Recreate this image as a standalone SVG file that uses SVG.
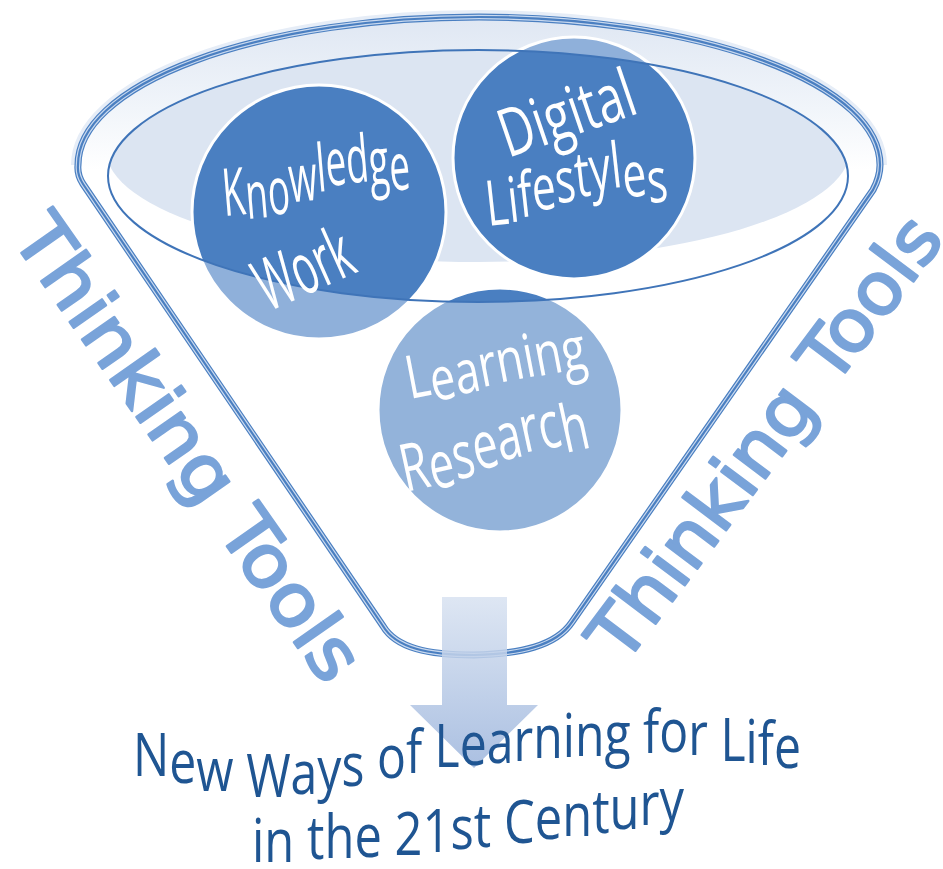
<svg xmlns="http://www.w3.org/2000/svg" width="943" height="869" viewBox="0 0 943 869">
<defs>
  <style>
    .rimA{fill:none;stroke:#4a7fc1;stroke-width:7;stroke-linejoin:round}
    .rimB{fill:none;stroke:#c9d9ef;stroke-width:4.6;stroke-linejoin:round}
    .rimC{fill:none;stroke:#4a7fc1;stroke-width:2.2;stroke-linejoin:round}
    .ring{fill:none;stroke:#ffffff;stroke-width:3}
    .dark{fill:#4a7fc1}
    .ctext{font-family:"Open Sans","Noto Sans","Liberation Sans",sans-serif;fill:#ffffff}
    .tt{font-family:"DejaVu Sans","Liberation Sans",sans-serif;font-size:72px;fill:#79a3d9;stroke:#79a3d9;stroke-width:2.4;stroke-linejoin:round}
    .cap{font-family:"Open Sans","Noto Sans","Liberation Sans",sans-serif;font-size:61px;fill:#1f5592}
  </style>
  <linearGradient id="rimFill" x1="0" y1="17" x2="0" y2="170" gradientUnits="userSpaceOnUse">
    <stop offset="0" stop-color="#dfe7f3"/>
    <stop offset="0.6" stop-color="#f1f5fa"/>
    <stop offset="1" stop-color="#ffffff"/>
  </linearGradient>
  <linearGradient id="arrowFill" x1="0" y1="597" x2="0" y2="770" gradientUnits="userSpaceOnUse">
    <stop offset="0" stop-color="#d8e2f1"/>
    <stop offset="1" stop-color="#9bb4dc"/>
  </linearGradient>
  <clipPath id="innerClip">
    <ellipse cx="478" cy="176" rx="370" ry="126"/>
  </clipPath>
</defs>

<rect width="943" height="869" fill="#ffffff"/>

<g id="funnel">
  <path d="M 78,165 A 401 148 0 0 1 880,165" fill="none" stroke="#e6edf7" stroke-width="14"/>
  <ellipse cx="479" cy="165" rx="401" ry="148" fill="url(#rimFill)"/>
  <ellipse cx="478" cy="176" rx="370" ry="126" fill="#ffffff"/>
  <ellipse cx="478" cy="150" rx="372" ry="112" fill="#dce5f2" clip-path="url(#innerClip)"/>
</g>

<g id="knowledge-work">
  <circle cx="319" cy="212" r="127" fill="#8fb0da"/>
  <circle cx="319" cy="212" r="127" class="dark" clip-path="url(#innerClip)"/>
  <circle cx="319" cy="212" r="127" class="ring"/>
</g>
<g id="digital-lifestyles">
  <circle cx="574" cy="158" r="121" fill="#8fb0da"/>
  <circle cx="574" cy="158" r="121" class="dark" clip-path="url(#innerClip)"/>
  <circle cx="574" cy="158" r="121" class="ring"/>
</g>
<g id="learning-research">
  <circle cx="500" cy="410" r="122" fill="#93b3da"/>
  <circle cx="500" cy="410" r="122" class="dark" clip-path="url(#innerClip)"/>
  <circle cx="500" cy="410" r="122" class="ring"/>
</g>

<g id="funnel-lines">
  <ellipse cx="478" cy="176" rx="370" ry="126" fill="none" stroke="#3f74b8" stroke-width="2"/>
  <path class="rimA" d="M 383,626 L 83,184 Q 77,175 78,165 A 401 148 0 0 1 880,165 Q 880,177 873,190 L 572,622 C 556,646 520,654 474,655 C 428,655 396,648 383,626 Z"/>
  <path class="rimB" d="M 383,626 L 83,184 Q 77,175 78,165 A 401 148 0 0 1 880,165 Q 880,177 873,190 L 572,622 C 556,646 520,654 474,655 C 428,655 396,648 383,626 Z"/>
  <path class="rimC" d="M 383,626 L 83,184 Q 77,175 78,165 A 401 148 0 0 1 880,165 Q 880,177 873,190 L 572,622 C 556,646 520,654 474,655 C 428,655 396,648 383,626 Z"/>
</g>

<g id="circle-labels">
  <text class="ctext" font-size="66" transform="translate(224,213) rotate(-4.9)" x="0" y="0" dy="3 5 -2 -11 -8 -5 -1 4 7" textLength="189" lengthAdjust="spacingAndGlyphs">Knowledge</text>
  <text class="ctext" font-size="72" transform="translate(268,312) rotate(-24)" x="0" y="0" textLength="100" lengthAdjust="spacingAndGlyphs">Work</text>
  <text class="ctext" font-size="67" transform="translate(508,158) rotate(-18.9)" x="0" y="0" textLength="140" lengthAdjust="spacingAndGlyphs">Digital</text>
  <text class="ctext" font-size="63" transform="translate(488,226) rotate(-6.3)" x="0" y="0" dy="0 -1 -4 -5 -5 -4 -4 -1 11 8" textLength="183" lengthAdjust="spacingAndGlyphs">Lifestyles</text>
  <text class="ctext" font-size="60" transform="translate(410,401) rotate(-10.8)" x="0" y="0" dy="-2 7 -2 -3 -1 0 1 1" textLength="182" lengthAdjust="spacingAndGlyphs">Learning</text>
  <text class="ctext" font-size="66" transform="translate(406,494) rotate(-12.3)" x="0" y="0" dy="-2 4 -5 -5 -4 -3 1 8" textLength="192" lengthAdjust="spacingAndGlyphs">Research</text>
</g>

<g id="thinking-tools-left">
  <text class="tt" transform="translate(189,447) rotate(55)" x="0" y="26" text-anchor="middle" textLength="550" lengthAdjust="spacingAndGlyphs">Thinking Tools</text>
</g>
<g id="thinking-tools-right">
  <text class="tt" transform="translate(764,437) rotate(-53)" x="0" y="26" text-anchor="middle" textLength="535" lengthAdjust="spacingAndGlyphs">Thinking Tools</text>
</g>

<g id="connectors">
  <path d="M 442,597 L 507,597 L 507,705 L 538,705 L 474,768 L 410,705 L 442,705 Z" fill="url(#arrowFill)" fill-opacity="0.85"/>
</g>

<g id="caption">
  <text class="cap" x="133" y="776" dy="0 7 8 3 3 -3 -4 -4 -4 -4 -5 -3 -3 -2 -2 -2 -3 -1 -1 -1 -1 -1 -1 3 3 3 2 2 3" textLength="668" lengthAdjust="spacingAndGlyphs">New Ways of Learning for Life</text>
  <text class="cap" x="252" y="862" dy="0 0 -1 -2 -1 -1 -1 -1 -3 -3 -2 -2 -2 -4 -3 -3 -4 -4 -4" textLength="432" lengthAdjust="spacingAndGlyphs">in the 21st Century</text>
</g>
</svg>
